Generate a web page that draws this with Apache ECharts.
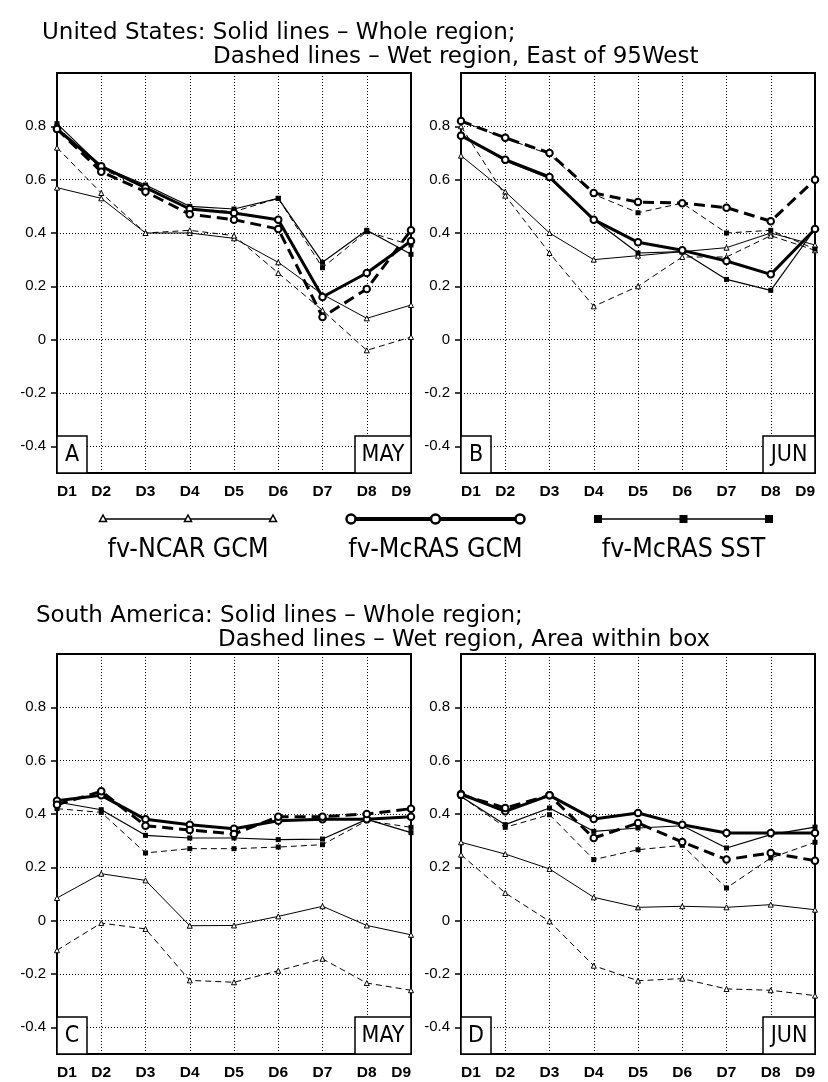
<!DOCTYPE html>
<html>
<head>
<meta charset="utf-8">
<script src="https://cdn.jsdelivr.net/npm/echarts@6/dist/echarts.min.js"></script>
<style>
html,body{margin:0;padding:0;background:#fff;}
#chart{width:828px;height:1082px;}
</style>
</head>
<body>
<div id="chart"></div>
<script>
// ---------------- DATA ----------------
const days = ['D1','D2','D3','D4','D5','D6','D7','D8','D9'];
const yTicks = [-0.4, -0.2, 0, 0.2, 0.4, 0.6, 0.8];

const titleUS1 = 'United States: Solid lines \u2013 Whole region;';
const titleUS2 = 'Dashed lines \u2013 Wet region, East of 95West';
const titleSA1 = 'South America: Solid lines \u2013 Whole region;';
const titleSA2 = 'Dashed lines \u2013 Wet region, Area within box';

const panelLetters = ['A', 'B', 'C', 'D'];
const panelMonths = ['MAY', 'JUN', 'MAY', 'JUN'];
const legendNames = ['fv-NCAR GCM', 'fv-McRAS GCM', 'fv-McRAS SST'];

// Panel A (US, May)
const A_ncarWhole = [0.57, 0.53, 0.40, 0.40, 0.38, 0.29, 0.17, 0.08, 0.13];
const A_ncarWet   = [0.72, 0.55, 0.40, 0.41, 0.39, 0.25, 0.11, -0.04, 0.01];
const A_gcmWhole  = [0.79, 0.65, 0.57, 0.49, 0.475, 0.45, 0.16, 0.25, 0.37];
const A_gcmWet    = [0.79, 0.63, 0.555, 0.47, 0.45, 0.415, 0.085, 0.19, 0.41];
const A_sstWhole  = [0.81, 0.65, 0.58, 0.50, 0.49, 0.53, 0.29, 0.41, 0.32];
const A_sstWet    = [0.80, 0.64, 0.57, 0.49, 0.48, 0.53, 0.27, 0.405, 0.355];

// Panel B (US, June)
const B_ncarWhole = [0.69, 0.555, 0.40, 0.30, 0.315, 0.33, 0.345, 0.40, 0.355];
const B_ncarWet   = [0.80, 0.54, 0.325, 0.125, 0.20, 0.31, 0.31, 0.39, 0.335];
const B_gcmWhole  = [0.765, 0.675, 0.61, 0.45, 0.365, 0.335, 0.295, 0.245, 0.415];
const B_gcmWet    = [0.82, 0.757, 0.70, 0.55, 0.516, 0.512, 0.495, 0.444, 0.60];
const B_sstWhole  = [0.77, 0.67, 0.605, 0.45, 0.325, 0.33, 0.226, 0.185, 0.415];
const B_sstWet    = [0.82, 0.755, 0.695, 0.545, 0.476, 0.512, 0.40, 0.41, 0.34];

// Panel C (South America, May)
const C_ncarWhole = [0.085, 0.176, 0.151, -0.019, -0.018, 0.016, 0.054, -0.018, -0.053];
const C_ncarWet   = [-0.111, -0.009, -0.031, -0.224, -0.231, -0.188, -0.143, -0.234, -0.261];
const C_gcmWhole  = [0.45, 0.47, 0.38, 0.36, 0.345, 0.375, 0.38, 0.38, 0.39];
const C_gcmWet    = [0.435, 0.485, 0.356, 0.34, 0.325, 0.39, 0.39, 0.40, 0.42];
const C_sstWhole  = [0.445, 0.416, 0.32, 0.31, 0.31, 0.304, 0.306, 0.38, 0.33];
const C_sstWet    = [0.42, 0.406, 0.254, 0.27, 0.27, 0.276, 0.285, 0.375, 0.35];

// Panel D (South America, June)
const D_ncarWhole = [0.294, 0.25, 0.194, 0.0875, 0.05, 0.054, 0.05, 0.06, 0.041];
const D_ncarWet   = [0.2475, 0.104, -0.0025, -0.169, -0.225, -0.2175, -0.256, -0.261, -0.281];
const D_gcmWhole  = [0.475, 0.41, 0.47, 0.381, 0.404, 0.36, 0.329, 0.329, 0.329];
const D_gcmWet    = [0.4725, 0.4225, 0.47, 0.31, 0.366, 0.295, 0.229, 0.254, 0.225];
const D_sstWhole  = [0.466, 0.36, 0.4225, 0.335, 0.3475, 0.356, 0.2725, 0.3225, 0.351];
const D_sstWet    = [0.466, 0.35, 0.3975, 0.229, 0.266, 0.2825, 0.1225, 0.235, 0.294];

const panelData = [
  [A_ncarWhole, A_ncarWet, A_gcmWhole, A_gcmWet, A_sstWhole, A_sstWet],
  [B_ncarWhole, B_ncarWet, B_gcmWhole, B_gcmWet, B_sstWhole, B_sstWet],
  [C_ncarWhole, C_ncarWet, C_gcmWhole, C_gcmWet, C_sstWhole, C_sstWet],
  [D_ncarWhole, D_ncarWet, D_gcmWhole, D_gcmWet, D_sstWhole, D_sstWet]
];

// ---------------- LAYOUT / STYLE ----------------
const CONDENSED = '"DejaVu Sans Condensed", "Liberation Sans Narrow", "Arial Narrow", "Liberation Sans", sans-serif';

const grids = [
  {left: 57,  top: 73,  width: 354, height: 400},
  {left: 461, top: 73,  width: 354, height: 400},
  {left: 57,  top: 654, width: 354, height: 400},
  {left: 461, top: 654, width: 354, height: 400}
];

const seriesStyles = [
  {width: 1,   type: 'solid',  symbol: 'triangle', size: 5,   fill: '#fff', border: 1, z: 3},
  {width: 1,   type: [6, 4],   symbol: 'triangle', size: 5,   fill: '#fff', border: 1, z: 3},
  {width: 3,   type: 'solid',  symbol: 'circle',   size: 6.5, fill: '#fff', border: 2, z: 6},
  {width: 3,   type: [11, 6],  symbol: 'circle',   size: 6.5, fill: '#fff', border: 2, z: 6},
  {width: 1.2, type: 'solid',  symbol: 'rect',     size: 5,   fill: '#000', border: 0, z: 4},
  {width: 1,   type: [6, 4],   symbol: 'rect',     size: 5,   fill: '#000', border: 0, z: 4}
];

const isTick = v => yTicks.some(t => Math.abs(t - v) < 1e-6);
const fmtY = v => {
  if (!isTick(v)) return '';
  const r = Math.round(v * 10) / 10;
  return r === 0 ? '0' : String(r);
};

const option = {
  animation: false,
  backgroundColor: '#fff',
  grid: grids.map(g => Object.assign({show: true, borderColor: '#000', borderWidth: 2, backgroundColor: 'transparent', containLabel: false}, g)),
  xAxis: grids.map((g, i) => ({
    gridIndex: i,
    type: 'category',
    data: days,
    boundaryGap: false,
    axisLine: {show: false},
    axisTick: {show: false},
    splitLine: {show: true, lineStyle: {color: '#000', width: 1, type: [1, 2]}},
    axisLabel: {
      color: '#000', fontSize: 15.5, fontWeight: 'bold', fontFamily: 'Liberation Sans',
      margin: 11, interval: 0, alignMinLabel: 'left', alignMaxLabel: 'right'
    }
  })),
  yAxis: grids.map((g, i) => ({
    gridIndex: i,
    type: 'value',
    min: -0.5,
    max: 1.0,
    splitNumber: 8,
    axisLine: {show: false},
    axisTick: {show: true, length: 6, inside: false, customValues: yTicks, lineStyle: {color: '#000', width: 1.5}},
    splitLine: {show: true, lineStyle: {color: '#000', width: 1, type: [1, 2]}},
    axisLabel: {
      customValues: yTicks,
      formatter: fmtY,
      color: '#000', fontSize: 15, fontFamily: 'Liberation Sans', margin: 11
    }
  })),
  series: [],
  graphic: []
};

panelData.forEach((arrs, p) => {
  arrs.forEach((arr, k) => {
    const s = seriesStyles[k];
    option.series.push({
      type: 'line',
      xAxisIndex: p,
      yAxisIndex: p,
      data: arr,
      z: s.z,
      symbol: s.symbol,
      symbolSize: s.size,
      showSymbol: true,
      showAllSymbol: true,
      lineStyle: {color: '#000', width: s.width, type: s.type},
      itemStyle: {color: s.fill, borderColor: '#000', borderWidth: s.border}
    });
  });
});

// Titles
const titleFont = '23px "DejaVu Sans"';
const titleTexts = [
  {t: titleUS1, x: 42,  y: 33},
  {t: titleUS2, x: 213, y: 57},
  {t: titleSA1, x: 36,  y: 616},
  {t: titleSA2, x: 218, y: 640}
];
titleTexts.forEach(o => option.graphic.push({
  type: 'text', x: o.x, y: o.y, z: 50,
  style: {text: o.t, font: titleFont, fill: '#000', align: 'left', verticalAlign: 'middle'}
}));

// Panel label boxes
grids.forEach((g, i) => {
  const by = g.top + g.height - 37;
  option.graphic.push({
    type: 'rect', z: 40,
    shape: {x: g.left, y: by, width: 30, height: 37},
    style: {fill: '#fff', stroke: '#000', lineWidth: 1.5}
  });
  option.graphic.push({
    type: 'text', z: 41, x: g.left + 15, y: by + 19,
    style: {text: panelLetters[i], font: '23px ' + CONDENSED, fill: '#000', align: 'center', verticalAlign: 'middle'}
  });
  const mw = panelMonths[i] === 'MAY' ? 56 : 52;
  option.graphic.push({
    type: 'rect', z: 40,
    shape: {x: g.left + g.width - mw, y: by, width: mw, height: 37},
    style: {fill: '#fff', stroke: '#000', lineWidth: 1.5}
  });
  option.graphic.push({
    type: 'text', z: 41, x: g.left + g.width - mw / 2, y: by + 19,
    style: {text: panelMonths[i], font: '23px ' + CONDENSED, fill: '#000', align: 'center', verticalAlign: 'middle'}
  });
});

// Legend
const legY = 519;
const legItems = [
  {x0: 103, x1: 273, lw: 1.5, kind: 'tri'},
  {x0: 351, x1: 520, lw: 4,   kind: 'circ'},
  {x0: 598, x1: 769, lw: 1.5, kind: 'sq'}
];
legItems.forEach((it, i) => {
  option.graphic.push({
    type: 'line', z: 30,
    shape: {x1: it.x0, y1: legY, x2: it.x1, y2: legY},
    style: {stroke: '#000', lineWidth: it.lw}
  });
  [it.x0, (it.x0 + it.x1) / 2, it.x1].forEach(mx => {
    if (it.kind === 'tri') {
      option.graphic.push({type: 'polygon', z: 31,
        shape: {points: [[mx, legY - 4], [mx - 3.5, legY + 2.5], [mx + 3.5, legY + 2.5]]},
        style: {fill: '#fff', stroke: '#000', lineWidth: 1.5}});
    } else if (it.kind === 'circ') {
      option.graphic.push({type: 'circle', z: 31,
        shape: {cx: mx, cy: legY, r: 4.5},
        style: {fill: '#fff', stroke: '#000', lineWidth: 2.5}});
    } else {
      option.graphic.push({type: 'rect', z: 31,
        shape: {x: mx - 4, y: legY - 4, width: 8, height: 8},
        style: {fill: '#000'}});
    }
  });
  option.graphic.push({
    type: 'text', z: 31, x: (it.x0 + it.x1) / 2, y: 550,
    style: {text: legendNames[i], font: '26.5px ' + CONDENSED, fill: '#000', align: 'center', verticalAlign: 'middle'}
  });
});

const chart = echarts.init(document.getElementById('chart'), null, {renderer: 'canvas'});
chart.setOption(option);
</script>
</body>
</html>
